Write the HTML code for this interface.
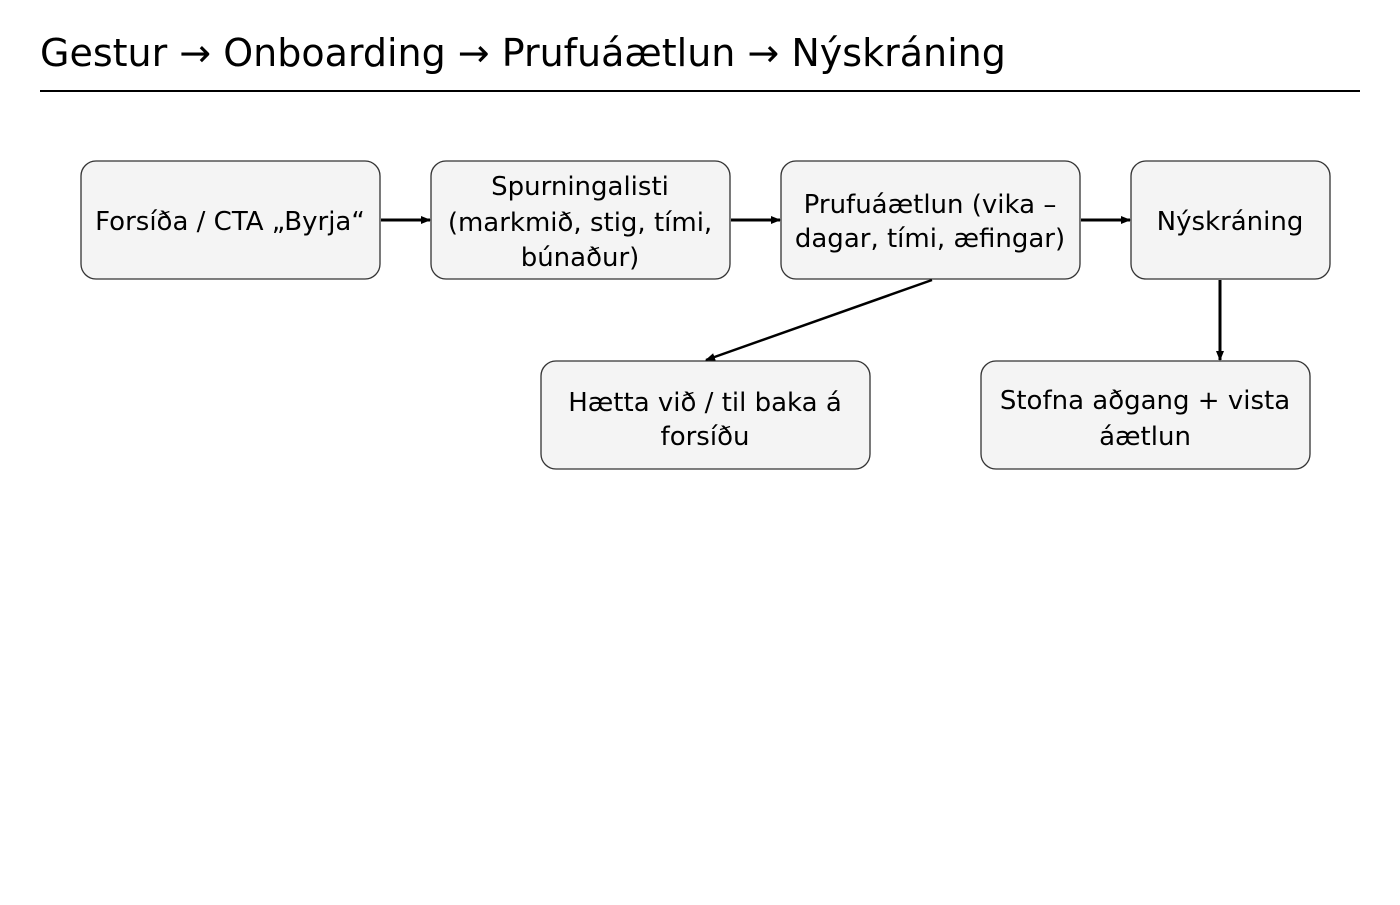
<!DOCTYPE html>
<html><head><meta charset="utf-8"><style>
html,body{margin:0;padding:0;background:#fff;}
svg text{font-family:"DejaVu Sans","Liberation Sans",sans-serif;fill:#000;}
</style></head><body>
<svg width="1400" height="900" viewBox="0 0 1400 900" xmlns="http://www.w3.org/2000/svg">
<defs>
<marker id="a" markerWidth="10" markerHeight="8" refX="9" refY="4" orient="auto" markerUnits="userSpaceOnUse">
<path d="M0,0 L10,4 L0,8 z" fill="#000"/>
</marker>
</defs>
<text x="40" y="66" font-size="38">Gestur → Onboarding → Prufuáætlun → Nýskráning</text>
<line x1="40" y1="91" x2="1360" y2="91" stroke="#000" stroke-width="2"/>
<g fill="#f4f4f4" stroke="#333" stroke-width="1.3">
<rect x="81" y="161" width="299" height="118" rx="15"/>
<rect x="431" y="161" width="299" height="118" rx="15"/>
<rect x="781" y="161" width="299" height="118" rx="15"/>
<rect x="1131" y="161" width="199" height="118" rx="15"/>
<rect x="541" y="361" width="329" height="108" rx="15"/>
<rect x="981" y="361" width="329" height="108" rx="15"/>
</g>
<g stroke="#000" stroke-width="3" marker-end="url(#a)">
<line x1="381" y1="220" x2="430" y2="220"/>
<line x1="731" y1="220" x2="780" y2="220"/>
<line x1="1081" y1="220" x2="1130" y2="220"/>
<line x1="1220" y1="280" x2="1220" y2="360"/>
<line x1="932" y1="280" x2="706" y2="360" stroke-width="2.5"/>
</g>
<g font-size="26" text-anchor="middle">
<text x="230" y="230">Forsíða / CTA „Byrja“</text>
<text x="580" y="195">Spurningalisti</text>
<text x="580" y="231">(markmið, stig, tími,</text>
<text x="580" y="266">búnaður)</text>
<text x="930" y="213">Prufuáætlun (vika –</text>
<text x="930" y="247">dagar, tími, æfingar)</text>
<text x="1230" y="230">Nýskráning</text>
<text x="705" y="411">Hætta við / til baka á</text>
<text x="705" y="445">forsíðu</text>
<text x="1145" y="409">Stofna aðgang + vista</text>
<text x="1145" y="445">áætlun</text>
</g>
</svg>
</body></html>
